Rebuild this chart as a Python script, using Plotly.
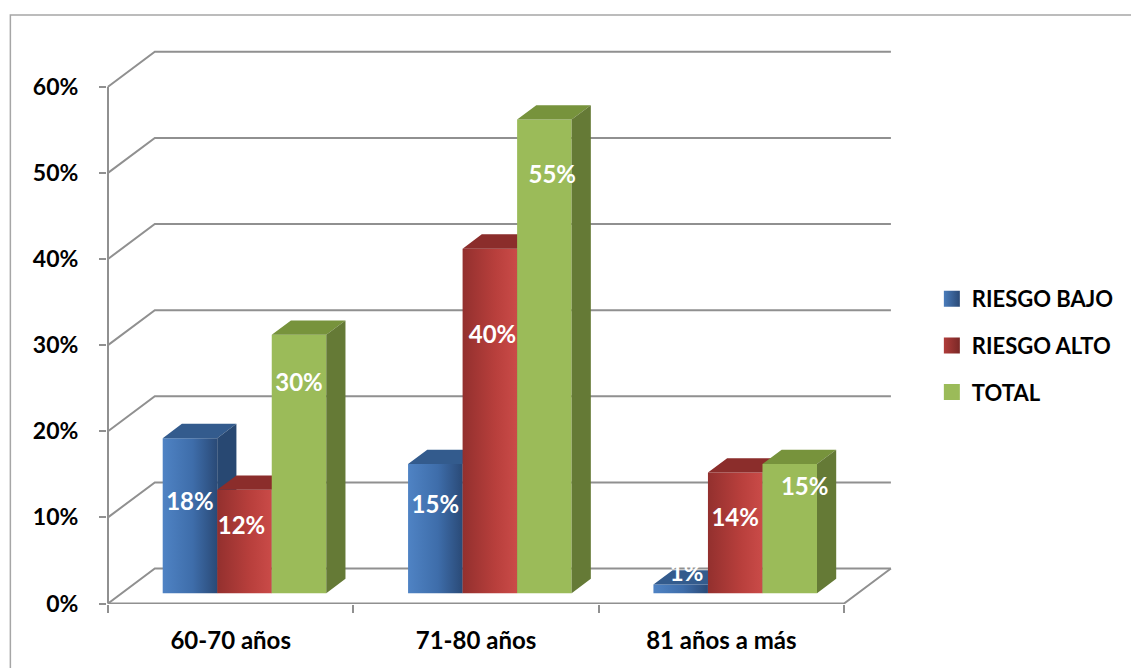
import plotly.graph_objects as go

# ---------------- data ----------------
categories = ["60-70 años", "71-80 años", "81 años a más"]
series_names = ["RIESGO BAJO", "RIESGO ALTO", "TOTAL"]
riesgo_bajo = [18, 15, 1]
riesgo_alto = [12, 40, 14]
total = [30, 55, 15]
y_ticks = [0, 10, 20, 30, 40, 50, 60]

# label placement (value units / category units)
label_y_bajo = [11.55, 11.2, 3.3]
label_y_alto = [8.8, 30.9, 9.7]
label_y_total = [25.4, 49.5, 13.3]
label_dx_bajo = [0.0, 0.0, 0.024]
label_dx_alto = [-0.012, 0.011, 0.0]
label_dx_total = [0.0, 0.032, 0.061]

series_values = [riesgo_bajo, riesgo_alto, total]
label_ys = [label_y_bajo, label_y_alto, label_y_total]
label_dxs = [label_dx_bajo, label_dx_alto, label_dx_total]

# ---------------- styling / 3D projection ----------------
FONT = "Lato"
GRID = "#909090"
W = 1 / 4.5          # bar width (category units), gap width 150%
GAP = 0.75 * W
DX, DY = 0.1908, 4.06  # floor depth projected (x units, % units)
F0, FD = 0.295, 0.41   # bar front depth fraction, bar depth fraction
F1 = F0 + FD

front_grad = [
    [[0, "#4f83c4"], [0.55, "#3e6daa"], [1, "#2a4a77"]],
    [[0, "#93302e"], [0.6, "#b83f3c"], [1, "#ca4b48"]],
    [[0, "#9bbb59"], [1, "#9bbb59"]],
]
top_col = ["#335b8d", "#8b2d2b", "#77933c"]
side_col = ["#284872", "#772725", "#657a36"]
legend_col = ["#4a7cbb", "#b03c3a", "#9bbb59"]
legend_grad = ["#2a4a77", "#7a2826", "#9bbb59"]


def P(x, v, d):
    return x + d * DX, v + d * DY


fig = go.Figure()

# ---- walls / grid ----
gx, gy = [], []
for t in y_ticks:
    a = P(0, t, 0)
    b = P(0, t, 1)
    c = P(3, t, 1)
    gx += [a[0], b[0], c[0], None]
    gy += [a[1], b[1], c[1], None]
# front vertical axis
gx += [0, 0, None]
gy += [0, y_ticks[-1], None]
# floor front edge and right edge
fr = P(3, 0, 1)
gx += [0, 3, fr[0], None]
gy += [0, 0, fr[1], None]
fig.add_trace(go.Scatter(x=gx, y=gy, mode="lines", line=dict(color=GRID, width=2),
                         hoverinfo="skip", showlegend=False))

# ---- bars ----
for s, vals in enumerate(series_values):
    tx, ty, sx, sy = [], [], [], []
    for c, v in enumerate(vals):
        x0 = c + GAP + s * W
        x1 = x0 + W
        pts = [P(x0, 0, F0), P(x1, 0, F0), P(x1, v, F0), P(x0, v, F0), P(x0, 0, F0)]
        fig.add_trace(go.Scatter(
            x=[p[0] for p in pts], y=[p[1] for p in pts], mode="lines",
            fill="toself", line=dict(width=0),
            fillcolor=front_grad[s][0][1],
            fillgradient=dict(type="horizontal", colorscale=front_grad[s]),
            hoverinfo="skip", showlegend=False))
        top = [P(x0, v, F0), P(x1, v, F0), P(x1, v, F1), P(x0, v, F1), P(x0, v, F0)]
        tx += [p[0] for p in top] + [None]
        ty += [p[1] for p in top] + [None]
        side = [P(x1, 0, F0), P(x1, v, F0), P(x1, v, F1), P(x1, 0, F1), P(x1, 0, F0)]
        sx += [p[0] for p in side] + [None]
        sy += [p[1] for p in side] + [None]
    fig.add_trace(go.Scatter(x=tx, y=ty, mode="lines", fill="toself", fillcolor=top_col[s],
                             line=dict(width=0), hoverinfo="skip", showlegend=False))
    fig.add_trace(go.Scatter(x=sx, y=sy, mode="lines", fill="toself", fillcolor=side_col[s],
                             line=dict(width=0), hoverinfo="skip", showlegend=False))

# ---- data labels ----
for s, vals in enumerate(series_values):
    lx = [c + GAP + (s + 0.5) * W + F0 * DX + label_dxs[s][c] for c in range(3)]
    fig.add_trace(go.Scatter(
        x=lx, y=label_ys[s], mode="text", text=[f"{v}%" for v in vals],
        textposition="middle center",
        textfont=dict(family=FONT, size=24, color="white", weight=700),
        hoverinfo="skip", showlegend=False, cliponaxis=False))

# ---- legend entries ----
for s, name in enumerate(series_names):
    fig.add_trace(go.Scatter(
        x=[None], y=[None], mode="markers", name=name, legendgroup=name,
        marker=dict(symbol="square", size=16, color=legend_col[s],
                    gradient=dict(type="horizontal", color=legend_grad[s]))))

# ---------------- layout ----------------
ML, MR, MT, MB = 107, 235, 49, 64
PX_X = 246.3
PX_Y = 8.613
PW = 1131 - ML - MR
PH = 668 - MT - MB
x_lo = (ML - 108) / PX_X
y_lo = -(604 - 603.5) / PX_Y

fig.update_layout(
    width=1131, height=668,
    margin=dict(l=ML, r=MR, t=MT, b=MB, pad=0),
    paper_bgcolor="white", plot_bgcolor="white",
    showlegend=True,
    legend=dict(x=(935 - ML) / PW, y=(604 - 278) / PH, xanchor="left", yanchor="top",
                font=dict(family=FONT, size=22, color="black", weight=700),
                tracegroupgap=15, bgcolor="rgba(0,0,0,0)"),
    xaxis=dict(range=[x_lo, x_lo + PW / PX_X], tickmode="array", tickvals=[0.5, 1.5, 2.5],
               ticktext=categories, ticks="", showgrid=False, zeroline=False, showline=False,
               tickfont=dict(family=FONT, size=24, color="black", weight=700),
               ticklabelstandoff=20,
               minor=dict(tickmode="array", tickvals=[0, 1, 2, 3], ticks="outside",
                          ticklen=8, tickwidth=2, tickcolor=GRID, showgrid=False),
               fixedrange=True),
    yaxis=dict(range=[y_lo, y_lo + PH / PX_Y], tickmode="array", tickvals=y_ticks,
               ticktext=[f"{t}%" for t in y_ticks], ticks="outside", ticklen=7,
               tickwidth=2, tickcolor=GRID, showgrid=False, zeroline=False, showline=False,
               tickfont=dict(family=FONT, size=23, color="black", weight=700),
               ticklabelstandoff=16, fixedrange=True),
    shapes=[dict(type="rect", xref="paper", yref="paper",
                 x0=(10 - ML) / PW, x1=(1140 - ML) / PW,
                 y0=(604 - 690) / PH, y1=(604 - 15) / PH,
                 line=dict(color="#a6a6a6", width=1.5), fillcolor="rgba(0,0,0,0)")],
)

fig.write_html("out.html")
